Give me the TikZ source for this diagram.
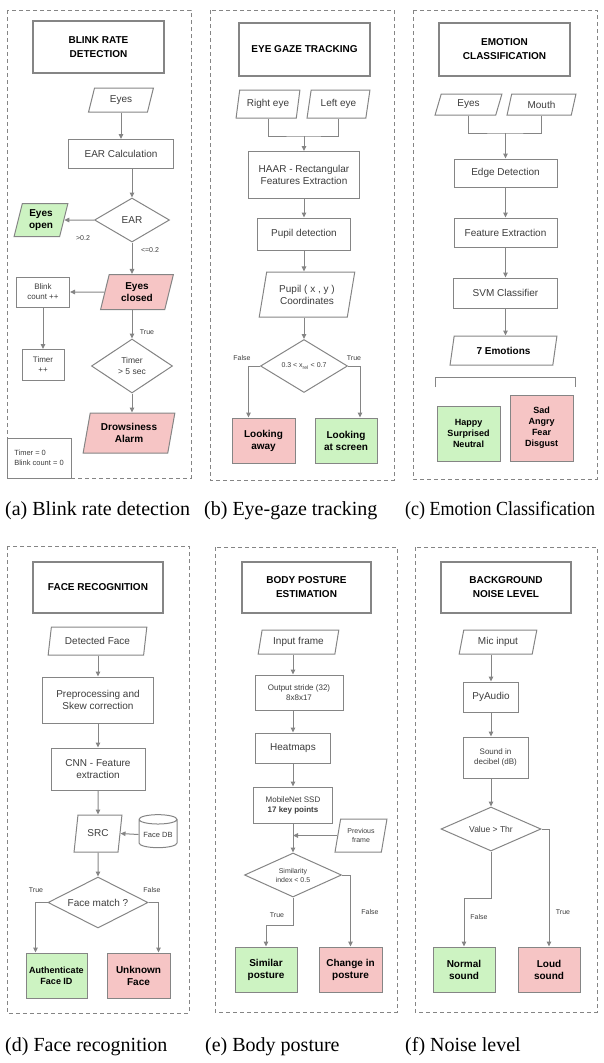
\documentclass[tikz,border=0pt]{standalone}
\usepackage{fontspec}
\setmainfont{Liberation Serif}
\setsansfont{Liberation Sans}
\newfontfamily\capnarrow[FakeStretch=0.9]{Liberation Serif}
\usepackage{xcolor}
\usepackage{tikz}
\usetikzlibrary{arrows.meta,positioning,shapes.geometric}

\definecolor{linegray}{HTML}{858585}
\definecolor{textgray}{HTML}{3C3C3C}
\definecolor{okgreen}{HTML}{CDF3C2}
\definecolor{alertpink}{HTML}{F6C5C5}

\tikzset{
  wh/.style 2 args={minimum width=#1pt,minimum height=#2pt},
  fs/.style 2 args={font=\sffamily\fontsize{#1}{#2}\selectfont},
  bfs/.style 2 args={font=\sffamily\bfseries\fontsize{#1}{#2}\selectfont},
  basebox/.style={draw=linegray,line width=1pt,align=center,inner sep=1pt,
    text=textgray,fs={10}{12}},
  procbox/.style={basebox,rectangle},
  titlebox/.style={basebox,rectangle,line width=1.3pt,text=black,bfs={10}{14}},
  iobox/.style={basebox,trapezium,trapezium left angle=76,
    trapezium right angle=104,trapezium stretches=true},
  decbox/.style={basebox,diamond,aspect=2,inner sep=0pt},
  dbbox/.style={basebox,cylinder,shape border rotate=90,shape aspect=0.3},
  goodbox/.style={fill=okgreen,text=black,bfs={10}{12}},
  alertbox/.style={fill=alertpink,text=black,bfs={10}{12}},
  flow/.style={draw=linegray,line width=1pt,-{Triangle[length=5pt,width=4.5pt]}},
  link/.style={draw=linegray,line width=1pt},
  edgelbl/.style={inner sep=0pt,text=textgray,fs={7}{8}},
  panelbox/.style={draw=linegray,line width=0.9pt,dash pattern=on 4pt off 3pt},
  caption/.style={anchor=west,inner sep=0pt,font=\rmfamily\fontsize{20}{22}\selectfont},
}

\begin{document}
\begin{tikzpicture}[x=1pt,y=-1pt]
  \useasboundingbox (0,0) rectangle (604,1063);
  \foreach \xa/\ya/\xb/\yb in {7/10/191/478,210/10/394/480,413/10/597/479,
    7/546/189/1013,215/547/397/1012,415/547/597/1012}
    \draw[panelbox] (\xa,\ya) rectangle (\xb,\yb);

  % (a) blink rate
  \node[titlebox,wh={131}{52}] (ttlA) at (98.5,47) {BLINK RATE\\DETECTION};
  \node[iobox,wh={65}{24}] (eyesA) at (121,100) {Eyes};
  \node[procbox,wh={105}{29}] (earcalc) at (121,154) {EAR Calculation};
  \node[decbox,wh={75}{44}] (ear) at (132,220) {EAR};
  \node[iobox,goodbox,wh={54}{33}] (eyesopen) at (41,220) {Eyes\\open};
  \node[iobox,alertbox,wh={73}{35}] (eyesclosed) at (137,292) {Eyes\\closed};
  \node[procbox,wh={53}{30},fs={8}{10}] (blink) at (43,292) {Blink\\count ++};
  \node[procbox,wh={42}{31},fs={8}{10}] (timerinc) at (43,365) {Timer\\++};
  \node[decbox,wh={81}{54},fs={8.5}{10.5}] (timerchk) at (132,366) {Timer\\> 5 sec};
  \node[iobox,alertbox,wh={92}{40}] (alarm) at (129,433) {Drowsiness\\Alarm};
  \node[procbox,wh={64}{40},align=left,fs={7.5}{9.5}] (initA) at (39,458) {Timer = 0\\Blink count = 0};
  \node[edgelbl] (gtA) at (83,238) {>0.2};
  \node[edgelbl] (leA) at (150,250) {<=0.2};
  \node[edgelbl] (trueA) at (147,332) {True};
  \draw[flow] (eyesA) -- (earcalc);
  \draw[flow] (ear.north |- earcalc.south) -- (ear.north);
  \draw[flow] (ear.west) -- (eyesopen.east);
  \draw[flow] (ear.south) -- (ear.south |- eyesclosed.north);
  \draw[flow] (eyesclosed.west) -- (blink.east);
  \draw[flow] (blink) -- (timerinc);
  \draw[flow] (timerchk.north |- eyesclosed.south) -- (timerchk.north);
  \draw[flow] (timerchk.south) -- (timerchk.south |- alarm.north);

  % (b) eye gaze
  \node[titlebox,wh={131}{53}] (ttlB) at (304.5,49.5) {EYE GAZE TRACKING};
  \node[iobox,wh={64}{28}] (righteye) at (268,104) {Right eye};
  \node[iobox,wh={63}{28}] (lefteye) at (338.5,104) {Left eye};
  \coordinate (mergeB) at (304,136);
  \node[procbox,wh={111}{47}] (haar) at (304,175) {HAAR - Rectangular\\Features Extraction};
  \node[procbox,wh={93}{32}] (pupildet) at (304,234) {Pupil detection};
  \node[iobox,wh={96}{45}] (pupilxy) at (307,294.5) {Pupil ( x , y )\\Coordinates};
  \node[decbox,wh={87}{53},fs={7}{8}] (gazechk) at (304,366) {0.3 < x\textsubscript{rel} < 0.7};
  \node[procbox,alertbox,wh={63}{45}] (lookaway) at (263.5,440.5) {Looking\\away};
  \node[procbox,goodbox,wh={62}{45}] (lookscreen) at (346,440.5) {Looking\\at screen};
  \node[edgelbl] (falseB) at (242,358) {False};
  \node[edgelbl] (trueB) at (354,358) {True};
  \draw[link] (righteye.south) |- (mergeB) -| (lefteye.south);
  \draw[flow] (mergeB) -- (haar);
  \draw[flow] (haar) -- (pupildet);
  \draw[flow] (pupildet.south) -- (pupildet.south |- pupilxy.north);
  \draw[flow] (gazechk.north |- pupilxy.south) -- (gazechk.north);
  \draw[flow] (gazechk.west) -| ([xshift=-15pt]lookaway.north);
  \draw[flow] (gazechk.east) -| ([xshift=14pt]lookscreen.north);

  % (c) emotion
  \node[titlebox,wh={131}{53}] (ttlC) at (504.5,49.5) {EMOTION\\CLASSIFICATION};
  \node[iobox,wh={67}{21}] (eyesC) at (468.5,104.5) {Eyes};
  \node[iobox,wh={69}{21}] (mouth) at (541.5,104.5) {Mouth};
  \coordinate (mergeC) at (505.5,133);
  \node[procbox,wh={103}{28}] (edge) at (505.5,173) {Edge Detection};
  \node[procbox,wh={103}{29}] (featC) at (505.5,232.5) {Feature Extraction};
  \node[procbox,wh={104}{30}] (svm) at (505.5,293) {SVM Classifier};
  \node[iobox,wh={107}{29},text=black,bfs={10}{12}] (sevenemo) at (503.5,350.5) {7 Emotions};
  \node[procbox,goodbox,wh={63}{55},bfs={9}{11}] (posemo) at (468.5,433.5) {Happy\\Surprised\\Neutral};
  \node[procbox,alertbox,wh={63}{66},bfs={9}{11}] (negemo) at (541.5,428) {Sad\\Angry\\Fear\\Disgust};
  \draw[link] (eyesC.south) |- (mergeC) -| (mouth.south);
  \draw[flow] (mergeC) -- (edge);
  \draw[flow] (edge) -- (featC);
  \draw[flow] (featC) -- (svm);
  \draw[flow] (svm.south) -- (svm.south |- sevenemo.north);
  \draw[link] (435,387) -- (435,377) -- (575,377) -- (575,387);

  % (d) face recognition
  \node[titlebox,wh={130}{51}] (ttlD) at (98,587.5) {FACE RECOGNITION};
  \node[iobox,wh={99}{28}] (detface) at (97.5,641) {Detected Face};
  \node[procbox,wh={111}{46}] (preproc) at (98,700) {Preprocessing and\\Skew correction};
  \node[procbox,wh={94}{42}] (cnn) at (98,769) {CNN - Feature\\extraction};
  \node[iobox,wh={48}{37}] (src) at (98,833.5) {SRC};
  \node[dbbox,wh={38}{33},fs={7.5}{9}] (facedb) at (158,834.5) {Face DB};
  \node[decbox,wh={100}{51}] (facematch) at (98,902.5) {Face match ?};
  \node[procbox,goodbox,wh={61}{45},bfs={9}{11}] (authface) at (56.5,975.5) {Authenticate\\Face ID};
  \node[procbox,alertbox,wh={63}{45}] (unknown) at (138.5,975.5) {Unknown\\Face};
  \node[edgelbl] (trueD) at (36,890) {True};
  \node[edgelbl] (falseD) at (152,890) {False};
  \draw[flow] (preproc.north |- detface.south) -- (preproc.north);
  \draw[flow] (preproc) -- (cnn);
  \draw[flow] (cnn) -- (src);
  \draw[flow] (facedb.west) -- (src.east);
  \draw[flow] (src) -- (facematch);
  \draw[flow] (facematch.west) -| ([xshift=-21pt]authface.north);
  \draw[flow] (facematch.east) -| ([xshift=20pt]unknown.north);

  % (e) body posture
  \node[titlebox,wh={129}{51}] (ttlE) at (306.5,587.5) {BODY POSTURE\\ESTIMATION};
  \node[iobox,wh={81}{24}] (inframe) at (298.5,642) {Input frame};
  \node[procbox,wh={88}{35},fs={8}{10}] (stride) at (299,692.5) {Output stride (32)\\8x8x17};
  \node[procbox,wh={75}{30}] (heatmap) at (293,748) {Heatmaps};
  \node[procbox,wh={79}{36},fs={8}{10}] (mobilenet) at (293,805) {MobileNet SSD\\\textbf{17 key points}};
  \node[iobox,wh={52}{33},fs={7}{9}] (prevframe) at (361,835.5) {Previous\\frame};
  \node[decbox,wh={97}{44},fs={7}{9}] (simchk) at (293,875) {Similarity\\index < 0.5};
  \coordinate (bendE) at (293,925);
  \node[procbox,goodbox,wh={62}{45}] (similar) at (266,969.5) {Similar\\posture};
  \node[procbox,alertbox,wh={63}{45}] (change) at (350.5,969.5) {Change in\\posture};
  \node[edgelbl] (trueE) at (277,915) {True};
  \node[edgelbl] (falseE) at (370,912) {False};
  \draw[flow] (heatmap.north |- inframe.south) -- (heatmap.north |- stride.north);
  \draw[flow] (heatmap.north |- stride.south) -- (heatmap.north);
  \draw[flow] (heatmap) -- (mobilenet);
  \draw[flow] (mobilenet) -- (simchk);
  \draw[flow] (prevframe.west) -- (prevframe.west -| mobilenet.south);
  \draw[flow] (simchk.south) -- (bendE) -| (similar.north);
  \draw[flow] (simchk.east) -| (change.north);

  % (f) noise level
  \node[titlebox,wh={130}{51}] (ttlF) at (506,587.5) {BACKGROUND\\NOISE LEVEL};
  \node[iobox,wh={78}{24}] (micin) at (498,642) {Mic input};
  \node[procbox,wh={55}{30}] (pyaudio) at (491,697) {PyAudio};
  \node[procbox,wh={65}{41},fs={8}{10}] (sound) at (495.5,757.5) {Sound in\\decibel (dB)};
  \node[decbox,wh={100}{44},fs={8.5}{10}] (thrchk) at (491,829) {Value > Thr};
  \coordinate (bendF) at (491,898);
  \node[procbox,goodbox,wh={62}{45}] (normal) at (464,969.5) {Normal\\sound};
  \node[procbox,alertbox,wh={62}{45}] (loud) at (549,969.5) {Loud\\sound};
  \node[edgelbl] (falseF) at (479,917) {False};
  \node[edgelbl] (trueF) at (563,912) {True};
  \draw[flow] (pyaudio.north |- micin.south) -- (pyaudio.north);
  \draw[flow] (pyaudio.south) -- (pyaudio.south |- sound.north);
  \draw[flow] (pyaudio.south |- sound.south) -- (thrchk.north);
  \draw[flow] (thrchk.south) -- (bendF) -| (normal.north);
  \draw[flow] (thrchk.east) -| (loud.north);

  \node[caption] (capA) at (5,511) {(a) Blink rate detection};
  \node[caption] (capB) at (204,511) {(b) Eye-gaze tracking};
  \node[caption,font=\capnarrow\fontsize{20}{22}\selectfont] (capC) at (405,511) {(c) Emotion Classification};
  \node[caption] (capD) at (5,1047) {(d) Face recognition};
  \node[caption] (capE) at (205,1047) {(e) Body posture};
  \node[caption] (capF) at (405,1047) {(f) Noise level};
\end{tikzpicture}
\end{document}
